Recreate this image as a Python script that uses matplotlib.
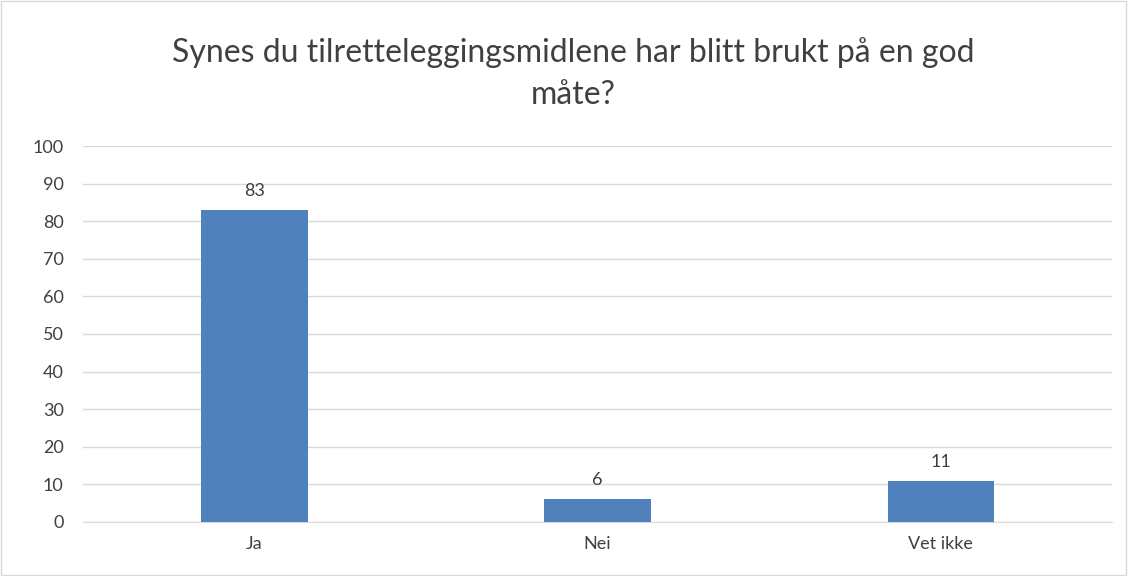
import matplotlib.pyplot as plt
from matplotlib.patches import Rectangle

categories = ["Ja", "Nei", "Vet ikke"]
values = [83, 6, 11]
y_ticks = [0, 10, 20, 30, 40, 50, 60, 70, 80, 90, 100]
title = "Synes du tilretteleggingsmidlene har blitt brukt på en god\nmåte?"

plt.rcParams["font.family"] = ["Lato", "DejaVu Sans"]

fig = plt.figure(figsize=(11.28, 5.76), dpi=100)
ax = fig.add_axes([0.0736, 0.0938, 0.9124, 0.6527])

x = range(len(categories))
bars = ax.bar(x, values, width=0.31, color="#4f81bd", zorder=3)
for rect, v in zip(bars, values):
    ax.annotate(str(v), (rect.get_x() + rect.get_width() / 2, rect.get_height()),
                xytext=(0, 8), textcoords="offset points", ha="center", va="bottom",
                fontsize=13, color="#404040")

ax.set_xlim(-0.5, len(categories) - 0.5)
ax.set_ylim(0, 100)
ax.set_yticks(y_ticks)
ax.set_xticks(list(x))
ax.set_xticklabels(categories)
ax.tick_params(axis="both", length=0, labelsize=13, labelcolor="#404040")
ax.tick_params(axis="y", pad=14)
ax.tick_params(axis="x", pad=10)
ax.grid(axis="y", color="#d9d9d9", lw=1, zorder=0)
for s in ["top", "right", "left"]:
    ax.spines[s].set_visible(False)
ax.spines["bottom"].set_color("#d9d9d9")

fig.text(0.508, 0.872, title, ha="center", va="center", fontsize=23,
         color="#404040", linespacing=1.5)

fig.patches.append(Rectangle((0.001, 0.001), 0.997, 0.997, transform=fig.transFigure,
                             fill=False, edgecolor="#d9d9d9", lw=1))

fig.savefig("out.png", dpi=100)
